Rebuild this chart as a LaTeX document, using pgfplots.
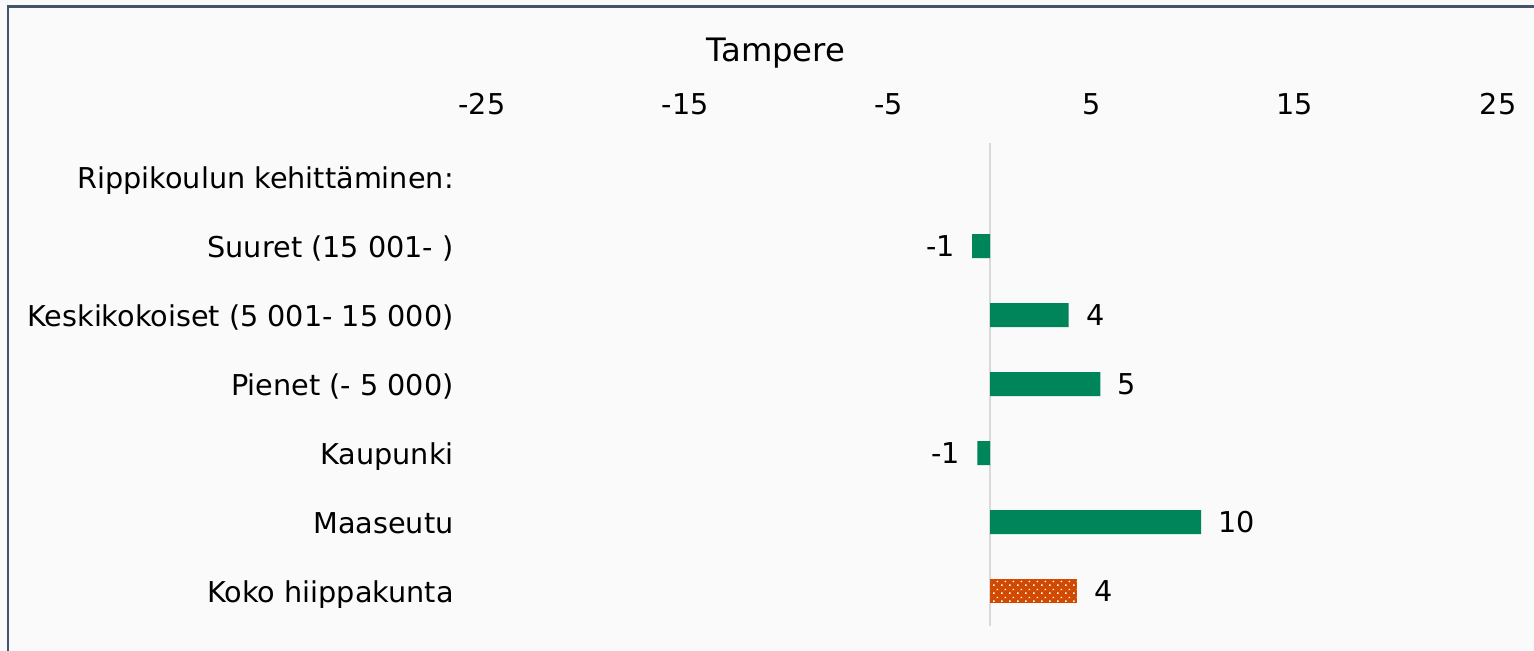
\documentclass[border=0pt]{standalone}
\usepackage{pgfplots}
\pgfplotsset{compat=1.18}
\usepackage{fontspec}
\setmainfont{DejaVu Sans}
\usetikzlibrary{patterns.meta}
\definecolor{bargreen}{HTML}{00845A}
\definecolor{barorange}{HTML}{D04A02}
\definecolor{framecol}{HTML}{44546A}
\definecolor{bgcol}{HTML}{FAFAFA}
\definecolor{zerocol}{HTML}{D9D9D9}
\newcommand{\lbl}{\fontsize{14.4pt}{17pt}\selectfont}
\pgfdeclarepattern{
  name=whitedots,
  type=uncolored,
  bottom left={\pgfpoint{0bp}{0bp}},
  top right={\pgfpoint{4bp}{4bp}},
  tile size={\pgfpoint{4bp}{4bp}},
  code={
    \pgfpathrectangle{\pgfpoint{0.6bp}{0.6bp}}{\pgfpoint{0.8bp}{0.8bp}}
    \pgfpathrectangle{\pgfpoint{2.6bp}{2.6bp}}{\pgfpoint{0.8bp}{0.8bp}}
    \pgfusepath{fill}
  }
}
\begin{document}
\begin{tikzpicture}
\path[use as bounding box, fill=bgcol] (0,0) rectangle (767bp,-325.5bp);
\draw[framecol, line width=1.2bp, fill=bgcol] (4bp,-3.3bp) rectangle (800bp,-360bp);
\node[font=\fontsize{16.2pt}{19pt}\selectfont, anchor=base] at (388bp,-30.8bp) {Tampere};
\begin{axis}[
  at={(241bp,-312.75bp)}, anchor=south west,
  scale only axis, width=508bp, height=241.5bp,
  xmin=-25, xmax=25, ymin=-0.5, ymax=6.5, y dir=reverse,
  axis line style={draw=none}, major tick length=0pt,
  xtick={-25,-15,-5,5,15,25}, xticklabels={-25,-15,-5,5,15,25},
  xticklabel pos=top,
  xticklabel style={anchor=south, inner sep=0pt, yshift=13.5bp, font=\lbl},
  ytick={0,1,2,3,4,5,6},
  yticklabels={{Rippikoulun kehittäminen:},{Suuret (15 001- )},{Keskikokoiset (5 001- 15 000)},{Pienet (- 5 000)},{Kaupunki},{Maaseutu},{Koko hiippakunta}},
  yticklabel style={anchor=east, inner sep=0pt, xshift=-14bp, text height=10.5bp, text depth=0pt, yshift=-0.3bp, font=\lbl},
  xbar, bar width=12bp, bar shift=0pt,
  nodes near coords, point meta=explicit symbolic,
  clip=false,
]
\draw[zerocol, line width=1bp] (axis cs:0,-0.5) -- (axis cs:0,6.5);
\addplot[fill=bargreen, draw=none,
  every node near coord/.append style={font=\lbl, anchor=west, inner xsep=8.5bp, inner ysep=0pt, text=black}]
  table[meta=lab] {
x y lab
3.87 2 4
5.43 3 5
10.39 5 10
};
\addplot[fill=bargreen, draw=none,
  every node near coord/.append style={font=\lbl, anchor=east, inner xsep=8.5bp, inner ysep=0pt, text=black}]
  table[meta=lab] {
x y lab
-0.88 1 -1
-0.62 4 -1
};
\addplot[fill=barorange, draw=none, postaction={pattern=whitedots, pattern color=white},
  every node near coord/.append style={font=\lbl, anchor=west, inner xsep=8.5bp, inner ysep=0pt, text=black}]
  table[meta=lab] {
x y lab
4.28 6 4
};
\end{axis}
\end{tikzpicture}
\end{document}
